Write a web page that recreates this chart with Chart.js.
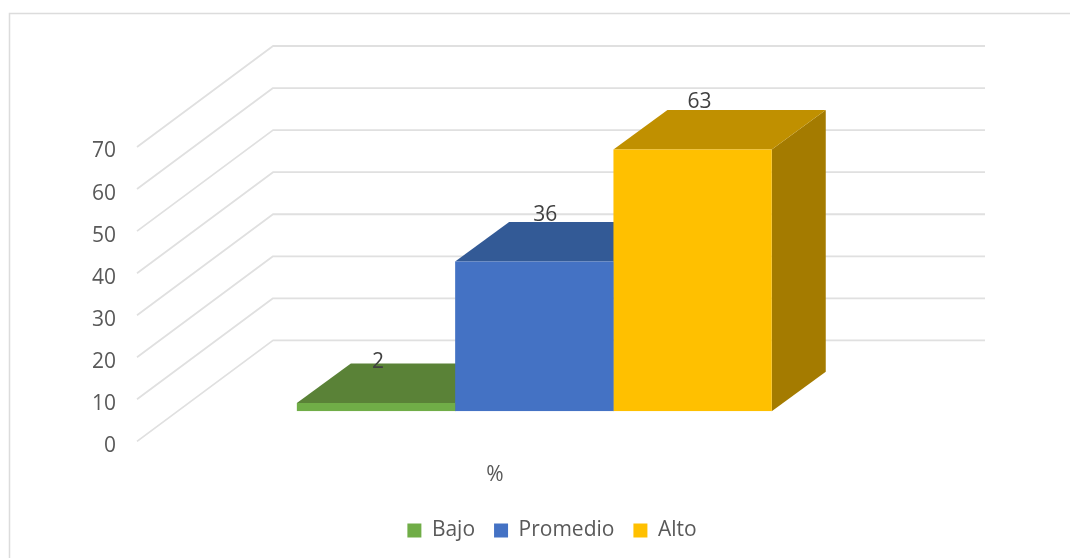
<!DOCTYPE html>
<html lang="es">
<head>
<meta charset="utf-8">
<title>Bajo, Promedio, Alto</title>
<style>
  html, body { margin: 0; padding: 0; background: #fff; }
  canvas { display: block; }
</style>
<script src="https://cdn.jsdelivr.net/npm/chart.js@4"></script>
</head>
<body>
<canvas id="chart" width="1070" height="558"></canvas>
<script>
// Series
const categories = ['%'];
const seriesNames = ['Bajo', 'Promedio', 'Alto'];
const bajoValues = [2];
const promedioValues = [36];
const altoValues = [63];

// Axis
const axisMin = 0;
const axisMax = 70;
const axisStep = 10;

// Face colours per series
const frontColors = ['#70AD47', '#4472C4', '#FFC000'];
const topColors = ['#5A8237', '#335A96', '#C09000'];
const sideColors = ['#4A6C2C', '#2A4A7C', '#A47B00'];

// Oblique projection of the chart box
const gridOrigin = { x: -2, y: -4.5 };
const wallShift = { x: 136, y: -101 };
const barPlaneShift = { x: 39.3, y: -34.7 };
const barDepth = { x: 54, y: -39.5 };
const gridRightEnd = 985;

// Hand placement of the value labels, relative to each bar's rear top edge
const labelNudge = [{ x: 2, y: -1.5 }, { x: 11, y: -7.5 }, { x: 7, y: -7.5 }];

const gridColor = '#e0e0e0';
const textColor = '#595959';
const labelColor = '#404040';
const fontFamily = '"Open Sans", "Noto Sans", sans-serif';
const fontSize = 21;

function polygon(ctx, color, pts) {
  ctx.fillStyle = color;
  ctx.beginPath();
  pts.forEach((p, i) => (i ? ctx.lineTo(p[0], p[1]) : ctx.moveTo(p[0], p[1])));
  ctx.closePath();
  ctx.fill();
}

// Chart frame plus the floor edge, side wall and back wall gridlines
const wallPlugin = {
  id: 'walls',
  beforeDraw(chart) {
    const { ctx, scales, chartArea, width, height } = chart;
    ctx.save();
    ctx.strokeStyle = '#dcdcdc';
    ctx.lineWidth = 1.5;
    ctx.beginPath();
    ctx.moveTo(width, 13.5);
    ctx.lineTo(9.5, 13.5);
    ctx.lineTo(9.5, height);
    ctx.stroke();

    ctx.strokeStyle = gridColor;
    ctx.lineWidth = 1.8;
    ctx.lineJoin = 'round';
    scales.y.ticks.forEach(tick => {
      const px = chartArea.left + gridOrigin.x;
      const py = scales.y.getPixelForValue(tick.value) + gridOrigin.y;
      ctx.beginPath();
      ctx.moveTo(px, py);
      ctx.lineTo(px + wallShift.x, py + wallShift.y);
      ctx.lineTo(gridRightEnd, py + wallShift.y);
      ctx.stroke();
    });
    ctx.restore();
  }
};

// Top and side faces go under the library's bars, which act as the front faces
const extrudePlugin = {
  id: 'extrude',
  beforeDatasetsDraw(chart) {
    const { ctx } = chart;
    ctx.save();
    ctx.translate(barPlaneShift.x, barPlaneShift.y);
    chart.data.datasets.forEach((ds, i) => {
      const bar = chart.getDatasetMeta(i).data[0];
      const l = bar.x - bar.width / 2;
      const r = bar.x + bar.width / 2;
      const t = bar.y;
      const b = bar.base;
      const d = barDepth;
      polygon(ctx, sideColors[i], [[r, t], [r + d.x, t + d.y], [r + d.x, b + d.y], [r, b]]);
      polygon(ctx, topColors[i], [[l, t], [l + d.x, t + d.y], [r + d.x, t + d.y], [r, t]]);
    });
  },
  afterDatasetsDraw(chart) {
    const { ctx } = chart;
    ctx.restore();
    ctx.save();
    ctx.font = fontSize + 'px ' + fontFamily;
    ctx.fillStyle = labelColor;
    ctx.textAlign = 'center';
    ctx.textBaseline = 'middle';
    chart.data.datasets.forEach((ds, i) => {
      const bar = chart.getDatasetMeta(i).data[0];
      const x = bar.x + barPlaneShift.x + labelNudge[i].x;
      const y = bar.y + barPlaneShift.y + barDepth.y + labelNudge[i].y;
      ctx.fillText(String(ds.data[0]), x, y);
    });
    ctx.restore();
  }
};

const seriesValues = [bajoValues, promedioValues, altoValues];

new Chart(document.getElementById('chart'), {
  type: 'bar',
  data: {
    labels: categories,
    datasets: seriesNames.map((name, i) => ({
      label: name,
      data: seriesValues[i],
      backgroundColor: frontColors[i],
      borderWidth: 0,
      yAxisID: 'yBars',
      categoryPercentage: 0.667,
      barPercentage: 1
    }))
  },
  options: {
    responsive: false,
    animation: false,
    layout: { padding: { top: 151.5, left: 34, right: 0, bottom: 7 } },
    scales: {
      x: {
        grid: { display: false },
        border: { display: false },
        ticks: { color: textColor, font: { family: fontFamily, size: fontSize }, padding: 9, maxRotation: 0 },
        afterFit(scale) { scale.height = 55.1; }
      },
      y: {
        min: axisMin,
        max: axisMax,
        position: 'left',
        grid: { display: false, drawTicks: false },
        border: { display: false },
        ticks: { stepSize: axisStep, color: textColor, font: { family: fontFamily, size: fontSize }, padding: 23 },
        afterFit(scale) { scale.width = 105; }
      },
      // Bars sit on a plane slightly nearer the viewer, so their unit height is a little smaller
      yBars: {
        min: axisMin,
        max: 70.85,
        position: 'right',
        grid: { display: false, drawTicks: false },
        border: { display: false },
        ticks: { display: false },
        afterFit(scale) { scale.width = 219; }
      }
    },
    plugins: {
      legend: {
        position: 'bottom',
        labels: {
          color: textColor,
          font: { family: fontFamily, size: fontSize },
          boxWidth: 14,
          boxHeight: 14,
          padding: 19
        }
      },
      tooltip: { enabled: false }
    }
  },
  plugins: [wallPlugin, extrudePlugin]
});
</script>
</body>
</html>
